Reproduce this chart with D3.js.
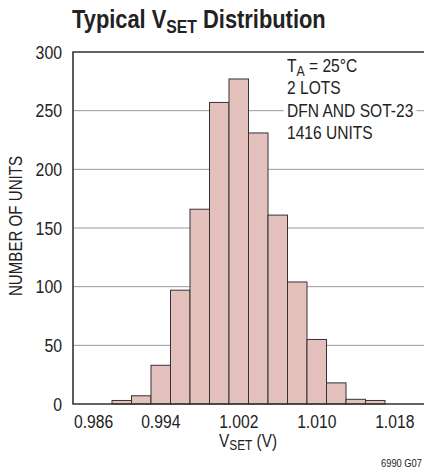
<!DOCTYPE html>
<html>
<head>
<meta charset="utf-8">
<script src="https://cdn.jsdelivr.net/npm/d3@7.9.0/dist/d3.min.js"></script>
<style>
  body { margin: 0; background: #fff; }
  svg { display: block; font-family: "Liberation Sans", Arial, sans-serif; }
</style>
</head>
<body>
<svg width="424" height="471"></svg>
<script>
// histogram bins (centre voltage) and counts
const binCenters = [0.990, 0.992, 0.994, 0.996, 0.998, 1.000, 1.002, 1.004, 1.006, 1.008, 1.010, 1.012, 1.014, 1.016];
const counts     = [3, 7, 33, 97, 166, 257, 277, 231, 161, 104, 55, 18, 4, 3];
const binWidth = 0.002;

const xTicks = [0.986, 0.994, 1.002, 1.010, 1.018];
const yTicks = [0, 50, 100, 150, 200, 250, 300];
const notes = ['T|A| = 25°C', '2 LOTS', 'DFN AND SOT-23', '1416 UNITS'];

const svg = d3.select('svg');
const plotL = 73, plotR = 424, plotT = 52, plotB = 404;

const x = d3.scaleLinear().domain([0.985, 1.021]).range([plotL, plotR]);
const y = d3.scaleLinear().domain([0, 300]).range([plotB, plotT]);

// no condensed font installed, so squeeze text horizontally
const squeeze = (px, py, k) => `translate(${px},${py}) scale(${k},1)`;

// title
const title = svg.append('text')
    .attr('transform', squeeze(72, 28, 0.875))
    .attr('font-size', 25).attr('font-weight', 'bold').attr('fill', '#222');
title.append('tspan').text('Typical V');
title.append('tspan').attr('font-size', 18).attr('dy', 5).text('SET');
title.append('tspan').attr('dy', -5).text(' Distribution');

// gridlines
svg.append('g')
    .selectAll('line')
    .data(yTicks.filter(d => d > 0 && d < 300))
    .join('line')
    .attr('x1', plotL).attr('x2', plotR)
    .attr('y1', d => y(d)).attr('y2', d => y(d))
    .attr('stroke', '#999').attr('stroke-width', 1);

// annotation block with white background
const noteG = svg.append('g').attr('transform', squeeze(287, 0, 0.82));
const noteText = noteG.append('text')
    .attr('font-size', 19).attr('fill', '#222');
notes.forEach((n, i) => {
    const t = noteText.append('tspan').attr('x', 0).attr('y', 72 + i * 22.3);
    const parts = n.split('|');
    t.append('tspan').text(parts[0]);
    if (parts.length > 1) {
        t.append('tspan').attr('font-size', 15).attr('dy', 4).text(parts[1]);
        t.append('tspan').attr('dy', -4).text(parts[2]);
    }
});
const bb = noteText.node().getBBox();
noteG.insert('rect', 'text')
    .attr('x', bb.x - 4).attr('y', bb.y)
    .attr('width', bb.width + 8).attr('height', bb.height)
    .attr('fill', '#fff');

// bars
svg.append('g')
    .selectAll('rect')
    .data(binCenters)
    .join('rect')
    .attr('x', d => x(d - binWidth / 2))
    .attr('width', d => x(d + binWidth / 2) - x(d - binWidth / 2))
    .attr('y', (d, i) => y(counts[i]))
    .attr('height', (d, i) => y(0) - y(counts[i]))
    .attr('fill', '#e4c1bd')
    .attr('stroke', '#333').attr('stroke-width', 1);

// frame: left, top, bottom
svg.append('path')
    .attr('d', `M${plotR},${plotT}H${plotL}V${plotB}H${plotR}`)
    .attr('fill', 'none').attr('stroke', '#333').attr('stroke-width', 1.6);

// y tick labels
svg.append('g')
    .selectAll('text')
    .data(yTicks)
    .join('text')
    .attr('transform', d => squeeze(62, y(d) + 6.5, 0.88))
    .attr('text-anchor', 'end')
    .attr('font-size', 18).attr('fill', '#222')
    .text(d => d);

// x tick labels
svg.append('g')
    .selectAll('text')
    .data(xTicks)
    .join('text')
    .attr('transform', (d, i) => squeeze(i === 0 ? plotL + 1 : x(d), 428, 0.87))
    .attr('text-anchor', (d, i) => i === 0 ? 'start' : 'middle')
    .attr('font-size', 18).attr('fill', '#222')
    .text(d => d3.format('.3f')(d));

// axis titles
const xt = svg.append('text')
    .attr('transform', squeeze(248, 447, 0.85))
    .attr('text-anchor', 'middle')
    .attr('font-size', 18).attr('fill', '#222');
xt.append('tspan').text('V');
xt.append('tspan').attr('font-size', 14).attr('dy', 3).text('SET');
xt.append('tspan').attr('dy', -3).text(' (V)');

svg.append('text')
    .attr('transform', 'translate(22,226) rotate(-90) scale(0.84,1)')
    .attr('text-anchor', 'middle')
    .attr('font-size', 18).attr('fill', '#222')
    .text('NUMBER OF UNITS');

svg.append('text')
    .attr('transform', squeeze(422, 467, 0.85))
    .attr('text-anchor', 'end')
    .attr('font-size', 11).attr('fill', '#222')
    .text('6990 G07');
</script>
</body>
</html>
